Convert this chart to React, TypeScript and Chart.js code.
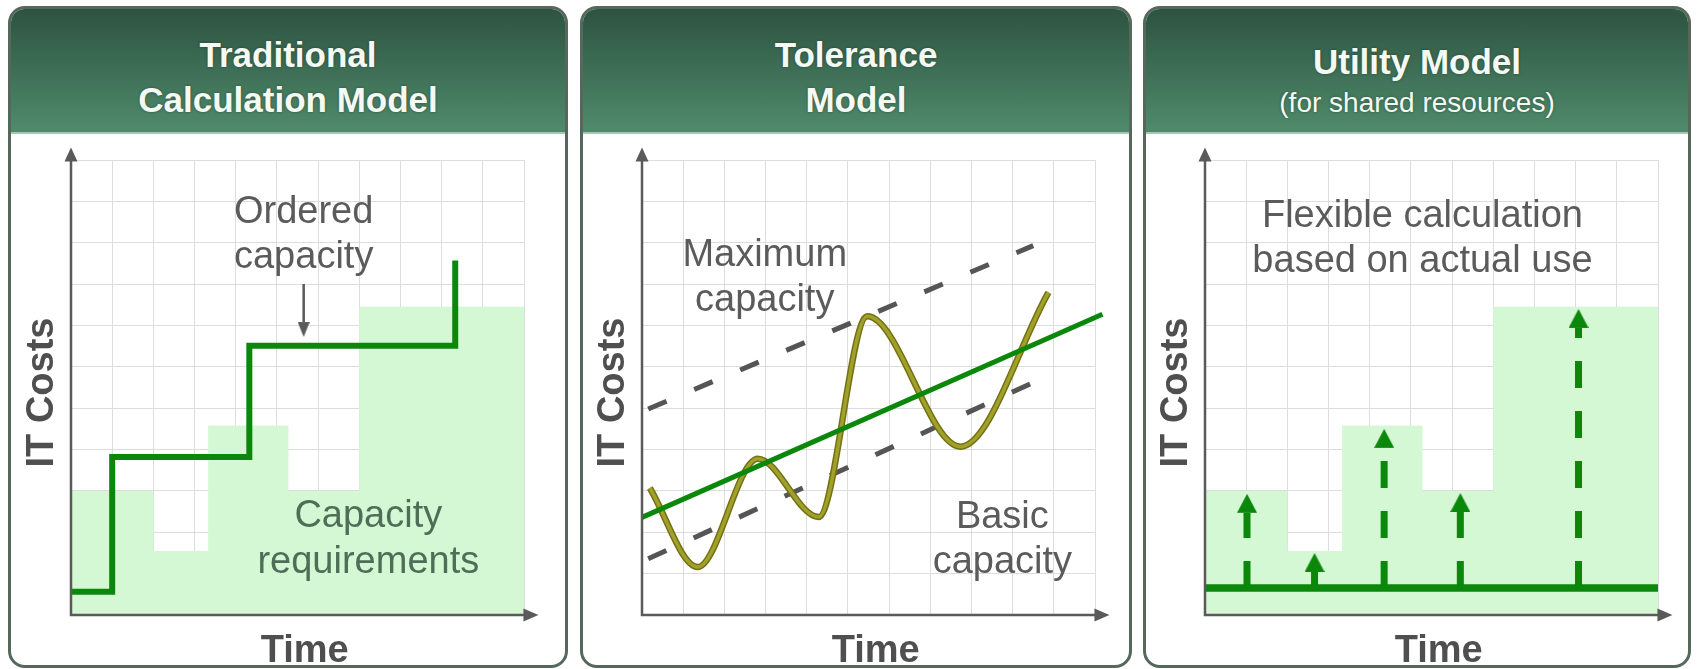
import React, { useEffect, useRef } from "react";
import { Chart, registerables } from "chart.js";

Chart.register(...registerables);

// ---------------- data (grid units) ----------------
const GRID_TICKS = [0, 1, 2, 3, 4, 5, 6, 7, 8, 9, 10, 11];

// capacity requirements (step area), shared by panel 1 and panel 3
const DEMAND_X = [0, 2, 3.33, 5.28, 7, 11];
const DEMAND_Y = [3.0, 1.55, 4.58, 3.0, 7.45, 7.45];

// panel 1: ordered capacity (step line) and the pointer arrow
const ORDERED_X = [0, 1, 4.33, 9.33];
const ORDERED_Y = [0.56, 3.82, 6.51, 8.57];
const POINTER_X = [5.65, 5.65];
const POINTER_Y = [8.0, 6.72];

// panel 2: tolerance model
const TREND_X = [0, 11.18];
const TREND_Y = [2.36, 7.27];
const MAX_CAP_X = [0.15, 9.5];
const MAX_CAP_Y = [4.98, 8.93];
const BASIC_CAP_X = [0.15, 9.5];
const BASIC_CAP_Y = [1.36, 5.62];
const USAGE_X = [0.19, 1.35, 2.81, 4.29, 5.47, 7.73, 9.87];
const USAGE_Y = [3.07, 1.16, 3.78, 2.37, 7.22, 4.07, 7.8];

// panel 3: utility model
const BASE_FEE_X = [0, 11];
const BASE_FEE_Y = [0.65, 0.65];
const METER_X = [1.02, 2.66, 4.35, 6.2, 9.07];
const METER_Y = [2.93, 1.5, 4.5, 2.95, 7.4];

// ---------------- layout / style ----------------
const FONT = '"Liberation Sans", Arial, Helvetica, sans-serif';
const GREEN = "#0b870b";
const FILL = "#d4f8d4";
const AXIS_COLOR = "#5a5a5a";
const TITLE_COLOR = "#4f4f4f";
const LABEL_GRAY = "#5b5b5b";
const LABEL_GREEN = "#4f6e58";
const GRID_COLOR = "#dddddd";
const DASH_GRAY = "#555555";
const OLIVE_OUT = "#727214";
const OLIVE_IN = "#a0a02a";
const BORDER = "#56675c";

const PANEL_TOP = 6;
const PANEL_BOTTOM = 668;
const HEADER_BOTTOM = 134;
const AREA_TOP = 160;
const AREA_BOTTOM = 615;
const AREA_W = 453;
const PX_PER_UNIT = (AREA_BOTTOM - AREA_TOP) / 11;
const AXIS_TIP_X = 11.35;
const AXIS_TIP_Y = 11.3;

const pts = (xs: number[], ys: number[]) => xs.map((x, i) => ({ x, y: ys[i] }));

function headImage(w: number, h: number, color: string, up: boolean) {
  const c = document.createElement("canvas");
  c.width = w;
  c.height = h * 2;
  const g = c.getContext("2d")!;
  g.fillStyle = color;
  g.beginPath();
  if (up) {
    g.moveTo(w / 2, 0);
    g.lineTo(w, h);
    g.lineTo(0, h);
  } else {
    g.moveTo(0, h);
    g.lineTo(w, h);
    g.lineTo(w / 2, 2 * h);
  }
  g.closePath();
  g.fill();
  return c;
}

type Label = { lines: string[]; x: number; ys: number[]; color: string; size: number };

function decorPlugin(labels: Label[]) {
  return {
    id: "decor",
    afterDatasetsDraw(chart: any) {
      const { ctx, chartArea } = chart;
      const xs = chart.scales.x;
      const ys = chart.scales.y;
      const x0 = xs.getPixelForValue(0);
      const y0 = ys.getPixelForValue(0);
      const xt = xs.getPixelForValue(AXIS_TIP_X);
      const yt = ys.getPixelForValue(AXIS_TIP_Y);
      ctx.save();
      ctx.strokeStyle = AXIS_COLOR;
      ctx.fillStyle = AXIS_COLOR;
      ctx.lineWidth = 2.5;
      ctx.beginPath();
      ctx.moveTo(x0, y0 + 1.25);
      ctx.lineTo(x0, yt + 12);
      ctx.moveTo(x0 - 1.25, y0);
      ctx.lineTo(xt - 12, y0);
      ctx.stroke();
      ctx.beginPath();
      ctx.moveTo(x0, yt);
      ctx.lineTo(x0 + 6.5, yt + 14);
      ctx.lineTo(x0 - 6.5, yt + 14);
      ctx.closePath();
      ctx.fill();
      ctx.beginPath();
      ctx.moveTo(xt, y0);
      ctx.lineTo(xt - 15, y0 - 6.5);
      ctx.lineTo(xt - 15, y0 + 6.5);
      ctx.closePath();
      ctx.fill();

      ctx.fillStyle = TITLE_COLOR;
      ctx.font = `bold 38px ${FONT}`;
      ctx.textAlign = "center";
      ctx.textBaseline = "alphabetic";
      ctx.fillText("Time", (x0 + xt) / 2, y0 + 47);
      ctx.save();
      ctx.translate(x0 - 32, (chartArea.top + y0) / 2 + 5);
      ctx.rotate(-Math.PI / 2);
      ctx.fillText("IT Costs", 0, 13.5);
      ctx.restore();

      for (const lab of labels) {
        ctx.fillStyle = lab.color;
        ctx.font = `${lab.size}px ${FONT}`;
        ctx.textBaseline = "middle";
        lab.lines.forEach((t, i) => {
          ctx.fillText(t, xs.getPixelForValue(lab.x), ys.getPixelForValue(lab.ys[i]));
        });
      }
      ctx.restore();
    },
  };
}

function scaleOpts() {
  return {
    type: "linear",
    min: 0,
    max: 11,
    afterBuildTicks: (s: any) => {
      s.ticks = GRID_TICKS.map((v) => ({ value: v }));
    },
    ticks: { display: false },
    grid: { color: GRID_COLOR, lineWidth: 1, drawTicks: false },
    border: { display: false },
  };
}

function demandFill(order: number) {
  return {
    data: pts(DEMAND_X, DEMAND_Y),
    stepped: true,
    borderColor: "rgba(0,0,0,0)",
    borderWidth: 1,
    backgroundColor: FILL,
    fill: "origin",
    pointRadius: 0,
    order,
  };
}

function arrowDataset(x: number, from: number, tip: number, color: string, width: number, dash: number[], headW: number, headH: number, order: number) {
  const up = tip > from;
  const end = up ? tip - headH / PX_PER_UNIT : tip + headH / PX_PER_UNIT;
  return {
    data: [
      { x, y: from },
      { x, y: end },
    ],
    borderColor: color,
    borderWidth: width,
    borderDash: dash,
    borderCapStyle: "butt",
    pointStyle: headImage(headW, headH, color, up),
    pointRadius: (c: any) => (c.dataIndex === 1 ? 10 : 0),
    fill: false,
    order,
  };
}

function makeConfig(width: number, axisLeft: number, datasets: any[], labels: Label[]) {
  return {
    type: "line",
    data: { datasets },
    options: {
      animation: false,
      responsive: false,
      maintainAspectRatio: false,
      devicePixelRatio: 1,
      events: [],
      layout: {
        padding: {
          left: axisLeft,
          top: AREA_TOP - HEADER_BOTTOM,
          right: width - axisLeft - AREA_W,
          bottom: PANEL_BOTTOM - AREA_BOTTOM,
        },
      },
      plugins: { legend: { display: false }, tooltip: { enabled: false }, title: { display: false } },
      elements: { point: { radius: 0 }, line: { tension: 0 } },
      scales: { x: scaleOpts(), y: scaleOpts() },
    },
    plugins: [decorPlugin(labels)],
  };
}

type PanelSpec = {
  left: number;
  width: number;
  axisLeft: number;
  header: { text: string; top: number; size: number; bold: boolean; lh: number }[];
  build: () => any;
};

const PANELS: PanelSpec[] = [
  {
    left: 8,
    width: 560,
    axisLeft: 63,
    header: [
      { text: "Traditional", top: 25, size: 35, bold: true, lh: 42 },
      { text: "Calculation Model", top: 70, size: 35, bold: true, lh: 42 },
    ],
    build: () =>
      makeConfig(
        560,
        63,
        [
          { data: pts(ORDERED_X, ORDERED_Y), stepped: true, borderColor: GREEN, borderWidth: 6, borderJoinStyle: "miter", fill: false, order: 0 },
          arrowDataset(POINTER_X[0], POINTER_Y[0], POINTER_Y[1], AXIS_COLOR, 2.5, [], 12, 15, 1),
          demandFill(2),
        ],
        [
          { lines: ["Ordered", "capacity"], x: 5.65, ys: [9.74, 8.64], color: LABEL_GRAY, size: 38 },
          { lines: ["Capacity", "requirements"], x: 7.22, ys: [2.37, 1.27], color: LABEL_GREEN, size: 38 },
        ]
      ),
  },
  {
    left: 580,
    width: 552,
    axisLeft: 62,
    header: [
      { text: "Tolerance", top: 25, size: 35, bold: true, lh: 42 },
      { text: "Model", top: 70, size: 35, bold: true, lh: 42 },
    ],
    build: () =>
      makeConfig(
        552,
        62,
        [
          { data: pts(TREND_X, TREND_Y), borderColor: GREEN, borderWidth: 5, fill: false, clip: false, order: 0 },
          { data: pts(USAGE_X, USAGE_Y), borderColor: OLIVE_IN, borderWidth: 3.5, cubicInterpolationMode: "monotone", fill: false, order: 1 },
          { data: pts(USAGE_X, USAGE_Y), borderColor: OLIVE_OUT, borderWidth: 6.5, cubicInterpolationMode: "monotone", fill: false, order: 2 },
          { data: pts(MAX_CAP_X, MAX_CAP_Y), borderColor: DASH_GRAY, borderWidth: 5, borderDash: [20, 30], fill: false, order: 3 },
          { data: pts(BASIC_CAP_X, BASIC_CAP_Y), borderColor: DASH_GRAY, borderWidth: 5, borderDash: [20, 30], fill: false, order: 3 },
        ],
        [
          { lines: ["Maximum", "capacity"], x: 2.98, ys: [8.68, 7.6], color: LABEL_GRAY, size: 38 },
          { lines: ["Basic", "capacity"], x: 8.75, ys: [2.36, 1.28], color: LABEL_GRAY, size: 38 },
        ]
      ),
  },
  {
    left: 1143,
    width: 548,
    axisLeft: 62,
    header: [
      { text: "Utility Model", top: 32, size: 35, bold: true, lh: 42 },
      { text: "(for shared resources)", top: 77, size: 28, bold: false, lh: 34 },
    ],
    build: () =>
      makeConfig(
        548,
        62,
        [
          { data: pts(BASE_FEE_X, BASE_FEE_Y), borderColor: GREEN, borderWidth: 7.5, borderCapStyle: "butt", fill: false, order: 0 },
          ...METER_X.map((x, i) => arrowDataset(x, BASE_FEE_Y[0], METER_Y[i], GREEN, 7, [27, 23], 20, 19, 1)),
          demandFill(5),
        ],
        [{ lines: ["Flexible calculation", "based on actual use"], x: 5.28, ys: [9.64, 8.55], color: LABEL_GRAY, size: 38 }]
      ),
  },
];

function Panel({ spec }: { spec: PanelSpec }) {
  const ref = useRef<HTMLCanvasElement>(null);
  useEffect(() => {
    const chart = new Chart(ref.current as HTMLCanvasElement, spec.build());
    return () => chart.destroy();
  }, []);
  const canvasH = PANEL_BOTTOM - HEADER_BOTTOM;
  return (
    <>
      <div
        style={{
          position: "absolute",
          left: spec.left,
          top: PANEL_TOP,
          width: spec.width,
          height: PANEL_BOTTOM - PANEL_TOP,
          boxSizing: "border-box",
          border: `3px solid ${BORDER}`,
          borderRadius: 17,
          overflow: "hidden",
          background: "#ffffff",
        }}
      >
        <div
          style={{
            position: "absolute",
            left: 0,
            top: 0,
            right: 0,
            height: HEADER_BOTTOM - PANEL_TOP - 3,
            boxSizing: "border-box",
            background: "linear-gradient(#2d5341, #4f8b6b)",
            borderBottom: "2px solid #a9c5b5",
          }}
        >
          {spec.header.map((h, i) => (
            <div
              key={i}
              style={{
                position: "absolute",
                left: 0,
                right: 0,
                top: h.top,
                textAlign: "center",
                color: "#f4f9f4",
                fontFamily: FONT,
                fontWeight: h.bold ? 700 : 400,
                fontSize: h.size,
                lineHeight: `${h.lh}px`,
                textShadow: "0 0 3px rgba(0,0,0,0.35)",
                whiteSpace: "nowrap",
              }}
            >
              {h.text}
            </div>
          ))}
        </div>
      </div>
      <canvas
        ref={ref}
        width={spec.width}
        height={canvasH}
        style={{ position: "absolute", left: spec.left, top: HEADER_BOTTOM, width: spec.width, height: canvasH }}
      />
    </>
  );
}

export default function App() {
  return (
    <div style={{ position: "absolute", left: 0, top: 0, width: 1699, height: 669, background: "#ffffff", overflow: "hidden" }}>
      {PANELS.map((p, i) => (
        <Panel key={i} spec={p} />
      ))}
    </div>
  );
}
